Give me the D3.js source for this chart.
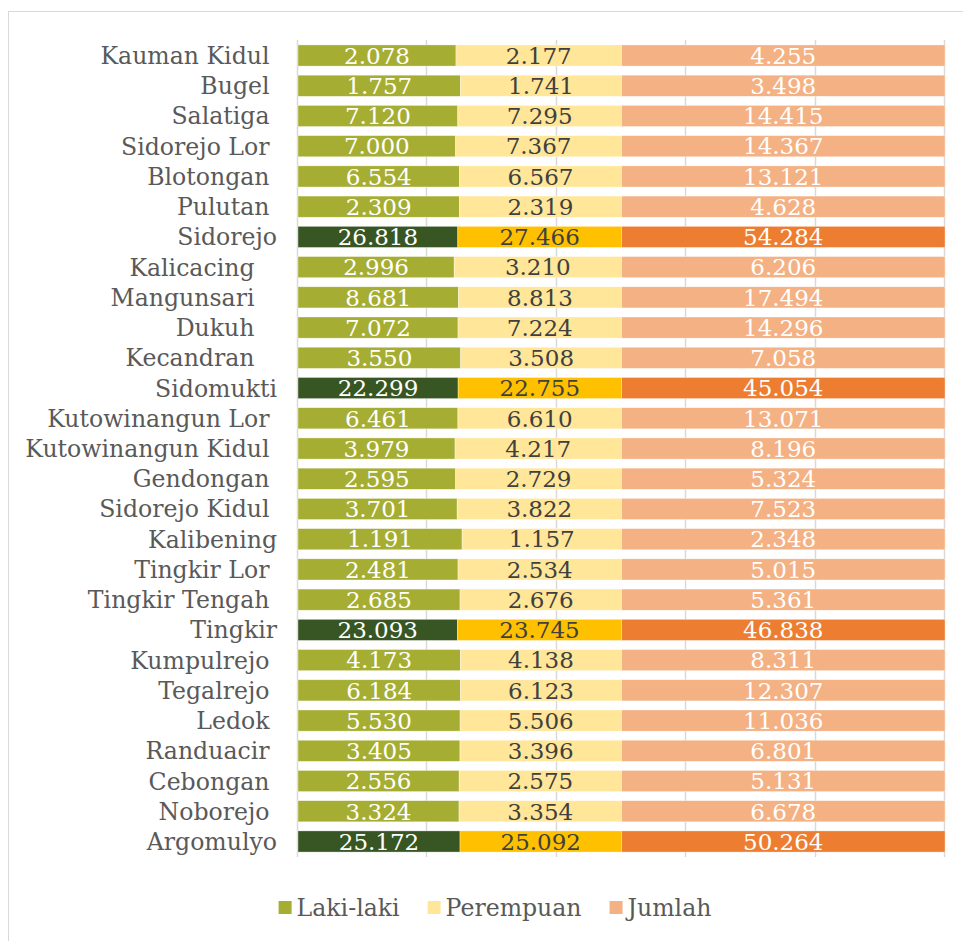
<!DOCTYPE html>
<html>
<head>
<meta charset="utf-8">
<script src="https://cdn.jsdelivr.net/npm/d3@7"></script>
<style>
  html, body { margin: 0; padding: 0; background: #fff; }
  svg text { font-family: "DejaVu Serif", serif; }
</style>
</head>
<body>
<div id="chart"></div>
<script>
// Kelurahan / kecamatan names, top to bottom (trailing spaces as in the source sheet)
const categories = [
  "Kauman Kidul ", "Bugel ", "Salatiga ", "Sidorejo Lor ", "Blotongan ", "Pulutan ",
  "Sidorejo", "Kalicacing   ", "Mangunsari   ", "Dukuh   ", "Kecandran   ",
  "Sidomukti", "Kutowinangun Lor ", "Kutowinangun Kidul ", "Gendongan ", "Sidorejo Kidul ",
  "Kalibening", "Tingkir Lor ", "Tingkir Tengah ", "Tingkir", "Kumpulrejo ",
  "Tegalrejo ", "Ledok ", "Randuacir ", "Cebongan ", "Noborejo ", "Argomulyo"
]

const lakiLaki = [
  2078, 1757, 7120, 7000, 6554, 2309, 26818, 2996, 8681, 7072, 3550, 22299, 6461, 3979,
  2595, 3701, 1191, 2481, 2685, 23093, 4173, 6184, 5530, 3405, 2556, 3324, 25172
]
const perempuan = [
  2177, 1741, 7295, 7367, 6567, 2319, 27466, 3210, 8813, 7224, 3508, 22755, 6610, 4217,
  2729, 3822, 1157, 2534, 2676, 23745, 4138, 6123, 5506, 3396, 2575, 3354, 25092
]
const jumlah = [
  4255, 3498, 14415, 14367, 13121, 4628, 54284, 6206, 17494, 14296, 7058, 45054, 13071, 8196,
  5324, 7523, 2348, 5015, 5361, 46838, 8311, 12307, 11036, 6801, 5131, 6678, 50264
]

// kecamatan totals are drawn in the darker shades
const kecamatan = ["Sidorejo", "Sidomukti", "Tingkir", "Argomulyo"]

const seriesNames = ["Laki-laki", "Perempuan", "Jumlah"]

const width = 963
const height = 941

const colors = {
  "Laki-laki": { light: "#a5ae32", dark: "#375623", text: "#ffffff" },
  "Perempuan": { light: "#ffe699", dark: "#ffc000", text: "#404040" },
  "Jumlah":    { light: "#f4b183", dark: "#ed7d31", text: "#ffffff" }
}

const rows = categories.map((c, i) => ({
  name: c,
  "Laki-laki": lakiLaki[i],
  "Perempuan": perempuan[i],
  "Jumlah": jumlah[i]
}))

const stacked = d3.stack()
  .keys(seriesNames)
  .offset(d3.stackOffsetExpand)(rows)

const x = d3.scaleLinear().domain([0, 1]).range([298, 945])
const y = d3.scaleBand()
  .domain(categories)
  .range([40.4, 856.6])
  .paddingInner(0.3)
  .paddingOuter(0.15)

const svg = d3.select("#chart")
  .append("svg")
  .attr("width", width)
  .attr("height", height)

// chart frame
svg.append("rect")
  .attr("x", 8.5)
  .attr("y", 11.5)
  .attr("width", width)
  .attr("height", height)
  .attr("fill", "none")
  .attr("stroke", "#d9d9d9")

// gridlines
svg.append("g")
  .selectAll("line")
  .data(x.ticks(5))
  .join("line")
  .attr("x1", d => Math.round(x(d)) - 0.5)
  .attr("x2", d => Math.round(x(d)) - 0.5)
  .attr("y1", 40)
  .attr("y2", 857)
  .attr("stroke", "#d9d9d9")
  .attr("stroke-width", 1.5)

const isDark = name => kecamatan.includes(name)

// bars
const layer = svg.append("g")
  .selectAll("g")
  .data(stacked)
  .join("g")

layer.selectAll("rect")
  .data(d => d.map(s => ({ key: d.key, s })))
  .join("rect")
  .attr("x", d => x(d.s[0]))
  .attr("y", d => y(d.s.data.name))
  .attr("width", d => x(d.s[1]) - x(d.s[0]))
  .attr("height", y.bandwidth())
  .attr("fill", d => isDark(d.s.data.name) ? colors[d.key].dark : colors[d.key].light)
  .attr("stroke", "#ffffff")
  .attr("stroke-opacity", 0.6)
  .attr("stroke-width", 0.6)

// value labels
const fmt = d3.formatLocale({ decimal: ",", thousands: ".", grouping: [3], currency: ["", ""] }).format(",d")

layer.selectAll("text")
  .data(d => d.map(s => ({ key: d.key, s })))
  .join("text")
  .attr("x", d => (x(d.s[0]) + x(d.s[1])) / 2)
  .attr("y", d => y(d.s.data.name) + y.bandwidth() / 2)
  .attr("dy", "0.36em")
  .attr("text-anchor", "middle")
  .attr("font-size", "23px")
  .attr("fill", d => colors[d.key].text)
  .text(d => fmt(d.s.data[d.key]))

// category axis labels
svg.append("g")
  .selectAll("text")
  .data(categories)
  .join("text")
  .attr("x", 277)
  .attr("y", d => y(d) + y.bandwidth() / 2)
  .attr("dy", "0.36em")
  .attr("text-anchor", "end")
  .attr("font-size", "23.6px")
  .attr("fill", "#595959")
  .style("white-space", "pre")
  .text(d => d)

// legend
const legend = svg.append("g")
const items = legend.selectAll("g")
  .data(seriesNames)
  .join("g")

items.append("rect")
  .attr("width", 13)
  .attr("height", 13)
  .attr("y", 901)
  .attr("fill", d => colors[d].light)

items.append("text")
  .attr("x", 18)
  .attr("y", 907.5)
  .attr("dy", "0.36em")
  .attr("font-size", "23.6px")
  .attr("fill", "#595959")
  .text(d => d)

let cursor = 0
const offsets = []
items.each(function () {
  offsets.push(cursor)
  const w = 18 + d3.select(this).select("text").node().getComputedTextLength()
  cursor += w + 28
})
const total = cursor - 28
const start = 495 - total / 2
items.attr("transform", (d, i) => `translate(${start + offsets[i]},0)`)
</script>
</body>
</html>
